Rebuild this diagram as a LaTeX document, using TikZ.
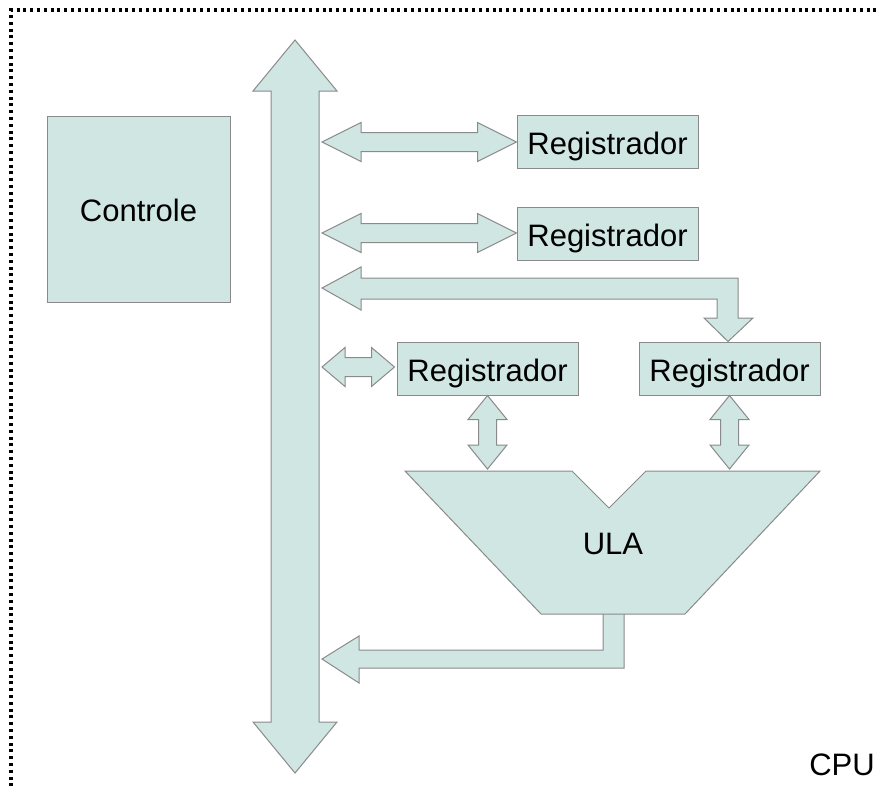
\documentclass[tikz,border=0pt]{standalone}
\usepackage{fontspec}
\setmainfont{Liberation Sans}
\usetikzlibrary{calc}
\definecolor{blockfill}{HTML}{CFE6E3}
\definecolor{blockline}{HTML}{8A8A8A}
\tikzset{
  block/.style={draw=blockline, fill=blockfill, line width=1pt, line join=miter},
  unit/.style={block, inner sep=0pt, font=\fontsize{31}{37}\selectfont,
    text height=25pt, text depth=0pt},
  reg/.style={unit, minimum width=181pt, minimum height=53pt},
  frame/.style={line width=3.2pt, dash pattern=on 3pt off 3.8pt, draw=black},
}
% horizontal double block arrow: left tip, right tip, shaft half, head half, head length
\newcommand\hdouble[5]{%
  \path[block] let \p1=(#1), \p2=(#2) in
    (\x1,\y1) -- (\x1+#5,\y1+#4) -- (\x1+#5,\y1+#3) -- (\x2-#5,\y1+#3)
    -- (\x2-#5,\y1+#4) -- (\x2,\y1) -- (\x2-#5,\y1-#4) -- (\x2-#5,\y1-#3)
    -- (\x1+#5,\y1-#3) -- (\x1+#5,\y1-#4) -- cycle;}
% vertical double block arrow: top tip, bottom tip, shaft half, head half, head length
\newcommand\vdouble[5]{%
  \path[block] let \p1=(#1), \p2=(#2) in
    (\x1,\y1) -- (\x1+#4,\y1-#5) -- (\x1+#3,\y1-#5) -- (\x1+#3,\y2+#5)
    -- (\x1+#4,\y2+#5) -- (\x1,\y2) -- (\x1-#4,\y2+#5) -- (\x1-#3,\y2+#5)
    -- (\x1-#3,\y1-#5) -- (\x1-#4,\y1-#5) -- cycle;}
\begin{document}
\begin{tikzpicture}[x=1pt, y=-1pt]
  \useasboundingbox (0,0) rectangle (880,785);
  \clip (0,0) rectangle (880,785);

  % dotted CPU frame
  \draw[frame] (11,800) -- (11,10) -- (900,10);
  \node[anchor=base east, inner sep=0pt, font=\fontsize{31}{37}\selectfont] (cpu) at (875,775) {CPU};

  % boxes
  \node[unit, minimum width=183pt, minimum height=186pt] (ctrl) at (138.5,209) {Controle};
  \node[reg] (r1) at (607.5,141.5) {Registrador};
  \node[reg] (r2) at (607.5,233.5) {Registrador};
  \node[reg] (r3) at (487.5,368.5) {Registrador};
  \node[reg] (r4) at (729.5,368.5) {Registrador};

  % internal bus
  \coordinate (busTop) at (295,40);
  \coordinate (busBot) at (295,773);
  \vdouble{busTop}{busBot}{24pt}{42pt}{51pt}

  % bus <-> registers
  \coordinate (b1) at (322,142);
  \coordinate (b2) at (322,233);
  \coordinate (b3) at (322,367);
  \hdouble{b1}{r1.west}{9.5pt}{19.5pt}{39pt}
  \hdouble{b2}{r2.west}{9.5pt}{19.5pt}{39pt}
  \hdouble{b3}{$(r3.west)+(-2,0)$}{9.5pt}{19.5pt}{23pt}

  % bus -> register (elbow)
  \coordinate (b4) at (322,288);
  \path[block] (b4) -- ++(39,-21) -- ++(0,11) -- (738,278) -- (738,318)
    -- (753,318) -- (r4.north -| 728,0) -- (704,318) -- (717,318) -- (717,299)
    -- (361,299) -- (361,310) -- cycle;

  % ULA result back to the bus
  \coordinate (b5) at (322,659);
  \path[block] (603,610) -- (624,610) -- (624,668) -- (359,668) -- (359,683)
    -- (b5) -- (359,636) -- (359,650) -- (603,650) -- cycle;

  % ULA
  \path[block] (405,471) -- (572,471) -- (609,508) -- (646,471) -- (820,471)
    -- (685,614) -- (541,614) -- cycle;
  \node[inner sep=0pt, font=\fontsize{31}{37}\selectfont] (ula) at (613,544) {ULA};
  \coordinate (ulaA) at (487,469);
  \coordinate (ulaB) at (730,469);

  % registers <-> ULA
  \vdouble{r3.south}{ulaA}{9pt}{19.5pt}{24pt}
  \vdouble{r4.south}{ulaB}{9pt}{19.5pt}{24pt}
\end{tikzpicture}
\end{document}
